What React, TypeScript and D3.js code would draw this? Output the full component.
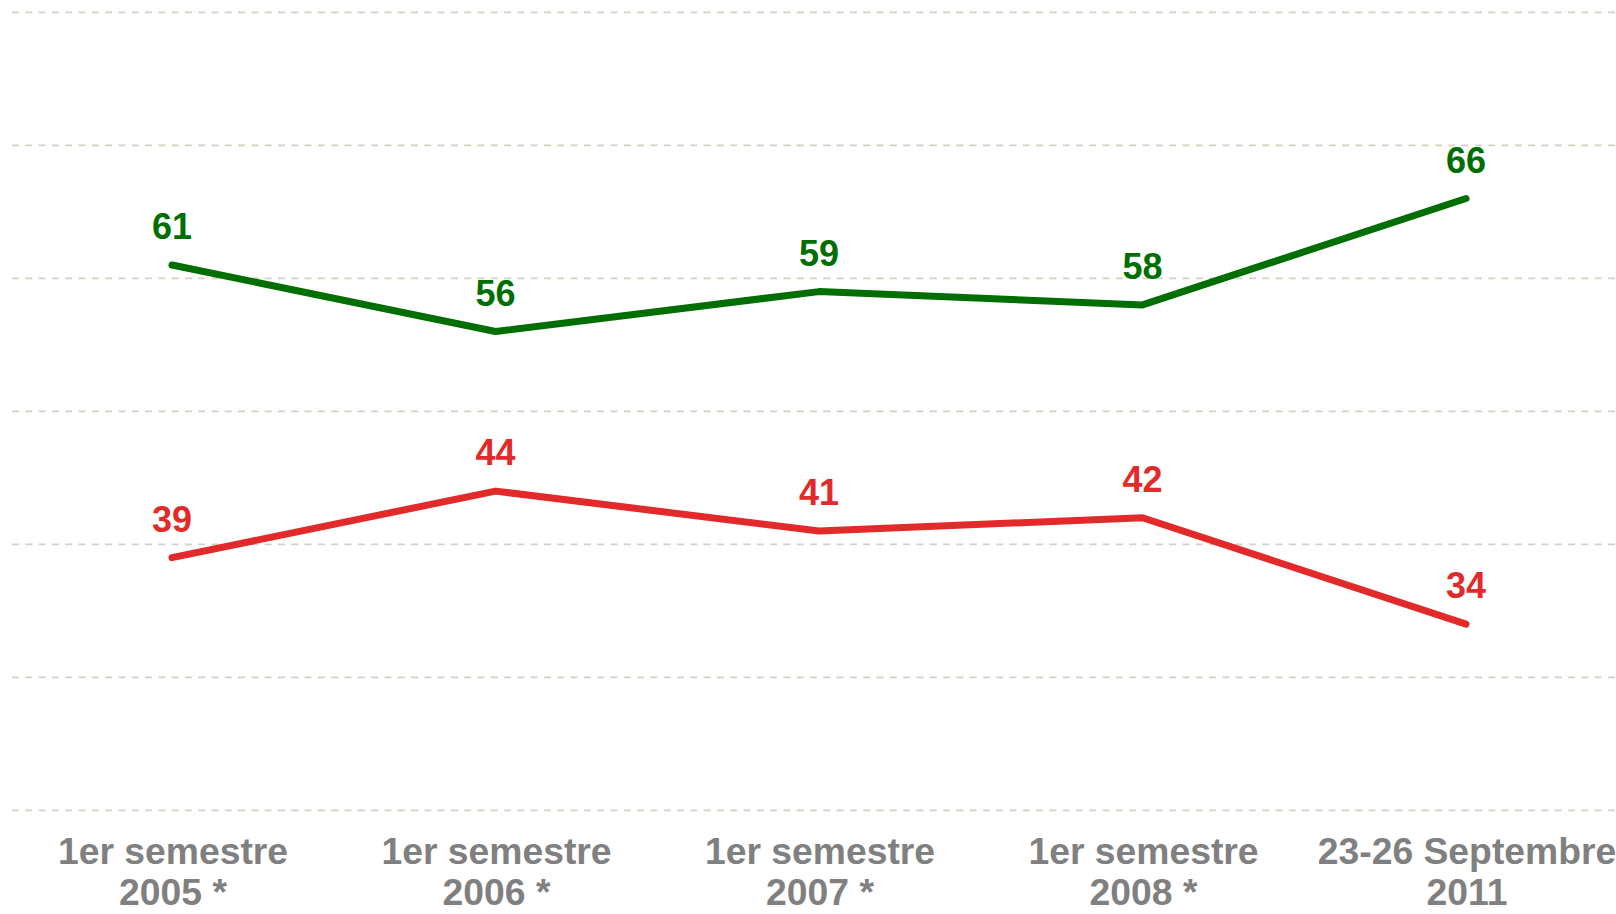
import React from "react";
import * as d3 from "d3";

const categories: string[][] = [
  ["1er semestre", "2005 *"],
  ["1er semestre", "2006 *"],
  ["1er semestre", "2007 *"],
  ["1er semestre", "2008 *"],
  ["23-26 Septembre", "2011"],
];
const greenValues = [61, 56, 59, 58, 66];
const redValues = [39, 44, 41, 42, 34];
const gridTicks = [20, 30, 40, 50, 60, 70, 80];

const W = 1616;
const H = 914;
const GREEN = "#006e00";
const RED = "#e32a2a";
const FONT = "'Liberation Sans', Arial, sans-serif";

export default function App() {
  const keys = categories.map((_, i) => String(i));
  const x = d3.scalePoint<string>().domain(keys).range([172, 1466]);
  const y = d3.scaleLinear().domain([20, 80]).range([810.3, 12.3]);
  const line = d3
    .line<number>()
    .x((_, i) => x(String(i)) as number)
    .y((d) => y(d));

  const series = [
    { values: greenValues, color: GREEN },
    { values: redValues, color: RED },
  ];

  return (
    <svg
      width={W}
      height={H}
      style={{ position: "absolute", left: 0, top: 0, background: "#fff" }}
    >
      {gridTicks.map((t) => (
        <line
          key={t}
          x1={12}
          x2={W}
          y1={y(t)}
          y2={y(t)}
          stroke="#d6cfc2"
          strokeWidth={1.7}
          strokeDasharray="7 6.3"
        />
      ))}
      {series.map((s, si) => (
        <g key={si}>
          <path
            d={line(s.values) || ""}
            fill="none"
            stroke={s.color}
            strokeWidth={7}
            strokeLinecap="round"
            strokeLinejoin="round"
          />
          {s.values.map((v, i) => (
            <text
              key={i}
              x={x(String(i))}
              y={y(v) - 26}
              textAnchor="middle"
              fontFamily={FONT}
              fontWeight="bold"
              fontSize={36}
              fill={s.color}
            >
              {v}
            </text>
          ))}
        </g>
      ))}
      {categories.map((c, i) => (
        <text
          key={i}
          textAnchor="middle"
          fontFamily={FONT}
          fontWeight="bold"
          fontSize={37.3}
          fill="#808080"
        >
          {c.map((l, j) => (
            <tspan key={j} x={(x(String(i)) as number) + 1} y={864 + j * 41}>
              {l}
            </tspan>
          ))}
        </text>
      ))}
    </svg>
  );
}
